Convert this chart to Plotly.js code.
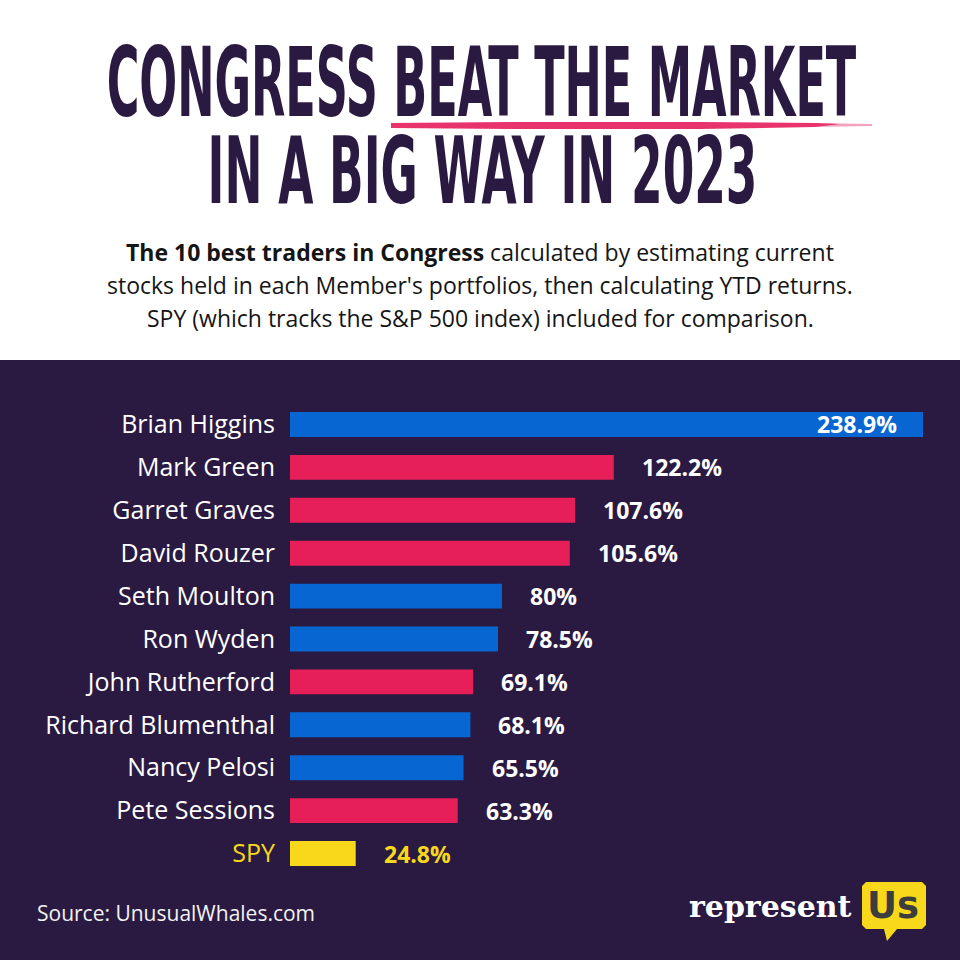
<!DOCTYPE html>
<html>
<head>
<meta charset="utf-8">
<script src="https://cdn.plot.ly/plotly-3.0.1.min.js"></script>
<style>
  html, body { margin: 0; padding: 0; background: #2a1a42; }
  #chart { width: 960px; height: 960px; }
</style>
</head>
<body>
<div id="chart"></div>
<script>
// data
const names = ['Brian Higgins', 'Mark Green', 'Garret Graves', 'David Rouzer', 'Seth Moulton',
  'Ron Wyden', 'John Rutherford', 'Richard Blumenthal', 'Nancy Pelosi', 'Pete Sessions', 'SPY'];
const returns = [238.9, 122.2, 107.6, 105.6, 80, 78.5, 69.1, 68.1, 65.5, 63.3, 24.8];
const party = ['D', 'R', 'R', 'R', 'D', 'D', 'R', 'D', 'D', 'R', 'Index'];

const colorOf = { D: '#0866d2', R: '#e61f58', Index: '#f8d81a' };
const BG = '#2a1a42';
const INK = '#2a1a42';

// plot area in pixels: x 290..923, y 403..875
const M = { l: 290, r: 37, t: 403, b: 85 };
const W = 960 - M.l - M.r, H = 960 - M.t - M.b;
function px(x) { return (x - M.l) / W; }
function py(y) { return (960 - M.b - y) / H; }
function path(pts) {
  return 'M' + pts.map(p => px(p[0]) + ',' + py(p[1])).join(' L') + ' Z';
}

const maxVal = Math.max(...returns);

const trace = {
  type: 'bar',
  orientation: 'h',
  x: returns,
  y: names,
  marker: { color: party.map(p => colorOf[p]) },
  hoverinfo: 'skip'
};

// value labels
const valueNotes = names.map((n, i) => {
  const inside = returns[i] === maxVal;
  return {
    x: returns[i], y: n, xref: 'x', yref: 'y',
    text: returns[i] + '%',
    showarrow: false,
    xanchor: inside ? 'right' : 'left',
    xshift: inside ? -24 : 26,
    font: { family: 'Open Sans', size: 23, weight: 700,
      color: party[i] === 'Index' ? colorOf.Index : '#ffffff' }
  };
});

const subtitle = [
  '<b>The 10 best traders in Congress</b> calculated by estimating current',
  "stocks held in each Member's portfolios, then calculating YTD returns.",
  'SPY (which tracks the S&P 500 index) included for comparison.'
];
const subNotes = subtitle.map((s, i) => ({
  x: px(480), y: py(252 + i * 33), xref: 'paper', yref: 'paper',
  text: s, showarrow: false, xanchor: 'center', yanchor: 'middle',
  font: { family: 'Open Sans', size: 23, color: '#151515' }
}));

const titleNotes = [
  { x: px(481), y: py(83), text: 'CONGRESS BEAT THE MARKET' },
  { x: px(482), y: py(172), text: 'IN A BIG WAY IN 2023' }
].map(a => Object.assign(a, {
  xref: 'paper', yref: 'paper', showarrow: false, xanchor: 'center', yanchor: 'middle',
  font: { family: 'DejaVu Sans Condensed', size: 50, weight: 700, color: INK }
}));

const otherNotes = [
  { x: px(35), y: py(913), xref: 'paper', yref: 'paper', text: 'Source: UnusualWhales.com',
    showarrow: false, xanchor: 'left', yanchor: 'middle',
    font: { family: 'Open Sans', size: 21, color: '#f2f2f2' } },
  { x: px(854), y: py(906), xref: 'paper', yref: 'paper', text: '<b>represent</b>',
    showarrow: false, xanchor: 'right', yanchor: 'middle',
    font: { family: 'DejaVu Serif', size: 30, color: '#ffffff' } },
  { x: px(893), y: py(905), xref: 'paper', yref: 'paper', text: '<b>Us</b>',
    showarrow: false, xanchor: 'center', yanchor: 'middle',
    font: { family: 'DejaVu Sans', size: 37, color: '#3d3d3d' } }
];

const shapes = [
  // white header block
  { type: 'rect', xref: 'paper', yref: 'paper', layer: 'below',
    x0: px(0), x1: px(960), y0: py(360), y1: py(0),
    fillcolor: '#ffffff', line: { width: 0 } },
  // brush underline
  { type: 'path', xref: 'paper', yref: 'paper', layer: 'below',
    path: path([[391, 123], [520, 122], [700, 122], [815, 123], [840, 124], [815, 127],
      [700, 129], [520, 129], [391, 128]]),
    fillcolor: '#e8336c', line: { width: 0 } },
  { type: 'path', xref: 'paper', yref: 'paper', layer: 'below',
    path: path([[810, 123], [872, 124], [872, 126], [810, 127]]),
    fillcolor: '#e8336c', opacity: 0.45, line: { width: 0 } },
  // speech bubble
  { type: 'path', xref: 'paper', yref: 'paper', layer: 'below',
    path: path([[866, 882], [922, 882], [926, 886], [926, 925], [922, 929], [897, 929],
      [887, 941], [884, 929], [866, 929], [862, 925], [862, 886]]),
    fillcolor: '#f8d81a', line: { width: 0 } }
];

const layout = {
  width: 960, height: 960,
  margin: M,
  paper_bgcolor: BG,
  plot_bgcolor: BG,
  showlegend: false,
  bargap: 0.42,
  xaxis: {
    range: [0, maxVal], showgrid: false, zeroline: false,
    showticklabels: false, showline: false, fixedrange: true
  },
  yaxis: {
    autorange: 'reversed', automargin: false,
    tickvals: names,
    ticktext: names.map((n, i) => party[i] === 'Index'
      ? '<span style="color:' + colorOf.Index + '">' + n + '</span>' : n),
    ticks: '', showgrid: false, zeroline: false, showline: false,
    ticklabelstandoff: 14,
    tickfont: { family: 'Open Sans', size: 25, color: '#ffffff' }
  },
  shapes: shapes,
  annotations: titleNotes.concat(subNotes, valueNotes, otherNotes)
};

// stretch the two headline lines to the condensed poster look
const titleFit = [{ w: 750, cap: 70 }, { w: 550, cap: 67 }];

Plotly.newPlot('chart', [trace], layout, { displayModeBar: false, staticPlot: true }).then(function (gd) {
  gd.querySelectorAll('.annotation').forEach(function (g) {
    const idx = +g.getAttribute('data-index');
    if (idx > 1) return;
    const t = g.querySelector('text.annotation-text');
    const b = t.getBBox();
    const sx = titleFit[idx].w / b.width;
    const sy = titleFit[idx].cap / (0.73 * 50);
    const cx = b.x + b.width / 2, cy = b.y + b.height / 2;
    t.setAttribute('transform', 'translate(' + cx * (1 - sx) + ',' + cy * (1 - sy) + ') scale(' + sx + ',' + sy + ')');
  });
});
</script>
</body>
</html>
